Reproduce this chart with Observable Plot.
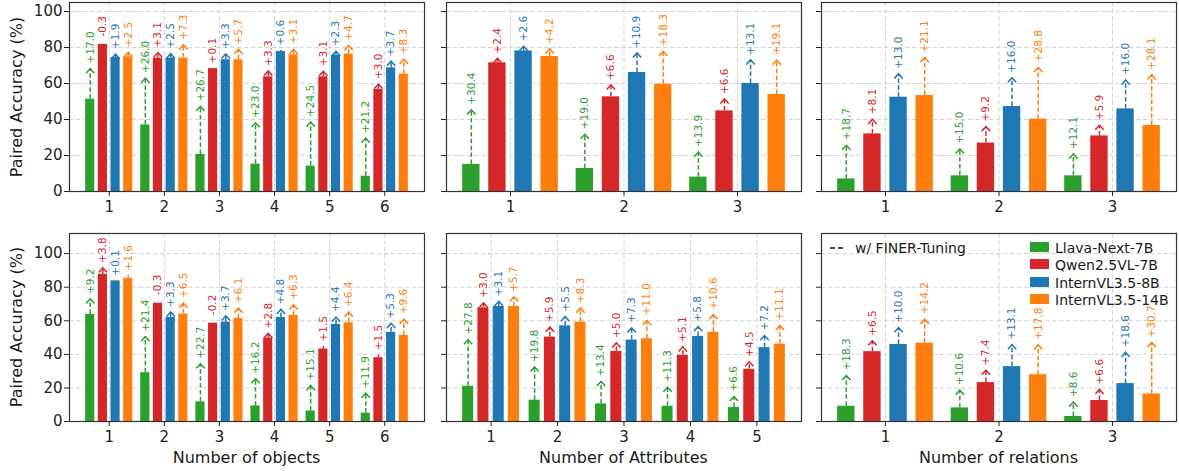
<!DOCTYPE html>
<html><head><meta charset="utf-8">
<script src="https://cdn.jsdelivr.net/npm/d3@7"></script>
<script src="https://cdn.jsdelivr.net/npm/@observablehq/plot@0.6"></script>
<style>
body{margin:0;background:#fff;font-family:"DejaVu Sans",sans-serif;}
#fig{position:relative;width:1179px;height:471px;overflow:hidden;background:#fff;}
.panel{position:absolute;}
.lbl{position:absolute;font-size:16px;color:#1a1a1a;white-space:nowrap;line-height:1;}
.leg{position:absolute;font-size:14px;color:#1a1a1a;white-space:nowrap;line-height:1;}
</style></head><body><div id="fig"></div>
<script>
const models = ["Llava-Next-7B", "Qwen2.5VL-7B", "InternVL3.5-8B", "InternVL3.5-14B"];
const colors = ["#2ca02c", "#d62728", "#1f77b4", "#ff7f0e"];
const objectCats = ["1", "2", "3", "4", "5", "6"];
const attrTopCats = ["1", "2", "3"];
const attrBottomCats = ["1", "2", "3", "4", "5"];
const relCats = ["1", "2", "3"];
const yTicks = [0, 20, 40, 60, 80, 100];
const xTitles = ["Number of objects", "Number of Attributes", "Number of relations"];
const yTitle = "Paired Accuracy (%)";
const dashLegend = "w/ FINER-Tuning";

// rows: Llava, Qwen, InternVL-8B, InternVL-14B
const objTopBase = [
  [51.3, 37.0, 20.6, 15.2, 14.1, 8.5],
  [81.7, 74.1, 68.3, 63.7, 63.7, 56.7],
  [74.4, 74.1, 73.2, 77.8, 75.6, 68.7],
  [74.8, 74.1, 73.2, 75.9, 76.3, 65.2]
];
const objTopGain = [
  [17.0, 26.0, 26.7, 23.0, 24.5, 21.2],
  [-0.3, 3.1, 0.1, 3.3, 3.1, 3.0],
  [1.9, 2.5, 3.3, 0.6, 2.3, 3.7],
  [2.5, 7.3, 5.7, 3.1, 4.7, 8.3]
];
const attrTopBase = [
  [15.0, 12.8, 8.0],
  [71.5, 52.6, 44.8],
  [78.1, 66.1, 60.0],
  [75.0, 59.6, 53.9]
];
const attrTopGain = [
  [30.4, 19.0, 13.9],
  [2.4, 6.6, 6.6],
  [2.6, 10.9, 13.1],
  [4.2, 18.3, 19.1]
];
const relTopBase = [
  [7.0, 8.7, 8.7],
  [32.0, 26.9, 30.9],
  [52.4, 47.2, 45.9],
  [53.3, 40.2, 36.7]
];
const relTopGain = [
  [18.7, 15.0, 12.1],
  [8.1, 9.2, 5.9],
  [13.0, 16.0, 16.0],
  [21.1, 28.8, 28.1]
];
const objBottomBase = [
  [63.8, 29.1, 11.7, 9.3, 6.3, 5.0],
  [87.7, 70.5, 58.6, 49.7, 43.2, 38.0],
  [83.8, 62.0, 59.2, 62.0, 57.8, 53.1],
  [85.3, 64.0, 61.4, 63.2, 58.8, 51.3]
];
const objBottomGain = [
  [9.2, 21.4, 22.7, 16.2, 15.1, 11.9],
  [3.8, -0.3, -0.2, 2.8, 1.5, 1.5],
  [0.1, 3.3, 3.7, 4.8, 4.4, 5.3],
  [1.6, 6.5, 6.1, 6.3, 6.4, 9.6]
];
const attrBottomBase = [
  [21.0, 12.7, 10.5, 9.1, 8.3],
  [67.7, 50.3, 41.8, 39.4, 31.1],
  [68.5, 57.0, 48.5, 50.7, 44.0],
  [68.5, 59.2, 49.3, 53.1, 46.1]
];
const attrBottomGain = [
  [27.8, 19.8, 13.4, 11.3, 6.6],
  [3.0, 5.9, 5.0, 5.1, 4.5],
  [3.1, 5.5, 7.3, 5.8, 7.2],
  [5.7, 8.3, 11.0, 10.6, 11.1]
];
const relBottomBase = [
  [9.1, 8.1, 3.0],
  [41.6, 23.2, 12.5],
  [45.9, 32.7, 22.6],
  [46.7, 27.9, 16.4]
];
const relBottomGain = [
  [18.3, 10.6, 8.6],
  [6.5, 7.4, 6.6],
  [10.0, 13.1, 18.6],
  [14.2, 17.8, 30.7]
];

const cols = [{left: 69, w: 355}, {left: 446, w: 355}, {left: 821, w: 355}];
const rowsGeo = [{top: 2, h: 189, yMax: 105}, {top: 233, h: 188, yMax: 112}];

const chevron = {
  draw(ctx) {
    ctx.moveTo(-4.2, 4.6);
    ctx.lineTo(0, 0);
    ctx.lineTo(4.2, 4.6);
  }
};

const fig = document.getElementById("fig");
const fmt = v => (v >= 0 ? "+" : "") + v.toFixed(1);

function panel(cats, base, gain, col, row, showYLabels) {
  const n = cats.length;
  const slot = 0.23, bw = n === 3 ? 0.153 : 0.166;
  const half = 1.5 * slot + bw / 2;
  const pad = 0.05 * (n - 1 + 2 * half);
  const ml = showYLabels ? 64 : 8, mr = 4, mt = 4, mb = 30;
  const headMin = 3 / (row.h / row.yMax);
  const grid = {stroke: "#cfcfcf", strokeOpacity: 1, strokeDasharray: "4.5,2.5", strokeWidth: 0.9};
  const bars = [], shafts = [], heads = [], labels = [];
  models.forEach((m, j) => {
    const data = cats.map((c, i) => ({i, v: base[j][i], d: gain[j][i]}));
    const xc = d => d.i + (j - 1.5) * slot;
    const tip = d => d.v + d.d;
    bars.push(Plot.rectY(data, {x1: d => xc(d) - bw / 2, x2: d => xc(d) + bw / 2, y1: 0, y2: "v", fill: colors[j]}));
    const pos = data.filter(d => d.d > 0);
    shafts.push(Plot.ruleX(pos, {x: xc, y1: "v", y2: tip, stroke: colors[j], strokeWidth: 1.5, strokeDasharray: "4.5,2.4"}));
    heads.push(Plot.dot(pos.filter(d => d.d >= headMin), {x: xc, y: tip, symbol: chevron, r: 4, fill: "none", stroke: colors[j], strokeWidth: 1.5}));
    labels.push(Plot.text(pos, {x: xc, y: tip, text: d => fmt(d.d), rotate: -90, textAnchor: "start", lineAnchor: "middle", dy: -5, fill: colors[j], fontSize: 10.5}));
    labels.push(Plot.text(data.filter(d => d.d <= 0), {x: xc, y: "v", text: d => fmt(d.d), rotate: -90, textAnchor: "start", lineAnchor: "middle", dy: -8, fill: colors[j], fontSize: 10.5}));
  });
  const svg = Plot.plot({
    width: ml + col.w + mr, height: mt + row.h + mb,
    marginLeft: ml, marginRight: mr, marginTop: mt, marginBottom: mb,
    x: {domain: [-half - pad, n - 1 + half + pad], axis: null},
    y: {domain: [0, row.yMax], axis: null},
    style: {fontFamily: "DejaVu Sans, sans-serif", color: "#222", background: "transparent", overflow: "visible"},
    marks: [
      Plot.gridY(yTicks, grid),
      Plot.gridX(d3.range(n), grid),
      ...bars, ...shafts, ...heads, ...labels,
      Plot.frame({stroke: "#333", strokeWidth: 1.2}),
      Plot.axisX(d3.range(n), {tickFormat: i => cats[i], tickSize: 5, tickPadding: 5, fontSize: 15, label: null}),
      showYLabels
        ? Plot.axisY(yTicks, {tickSize: 5, tickPadding: 2, fontSize: 15, label: null})
        : Plot.axisY(yTicks, {tickSize: 5, tickFormat: () => "", label: null})
    ]
  });
  const div = document.createElement("div");
  div.className = "panel";
  div.style.left = (col.left - ml) + "px";
  div.style.top = (row.top - mt) + "px";
  div.style.width = (ml + col.w + mr) + "px";
  div.appendChild(svg);
  fig.appendChild(div);
}

panel(objectCats, objTopBase, objTopGain, cols[0], rowsGeo[0], true);
panel(attrTopCats, attrTopBase, attrTopGain, cols[1], rowsGeo[0], false);
panel(relCats, relTopBase, relTopGain, cols[2], rowsGeo[0], false);
panel(objectCats, objBottomBase, objBottomGain, cols[0], rowsGeo[1], true);
panel(attrBottomCats, attrBottomBase, attrBottomGain, cols[1], rowsGeo[1], false);
panel(relCats, relBottomBase, relBottomGain, cols[2], rowsGeo[1], false);

// axis titles
xTitles.forEach((t, k) => {
  const el = document.createElement("div");
  el.className = "lbl";
  el.textContent = t;
  el.style.left = (cols[k].left + cols[k].w / 2) + "px";
  el.style.top = "458px";
  el.style.transform = "translate(-50%, -50%)";
  fig.appendChild(el);
});
rowsGeo.forEach(r => {
  const el = document.createElement("div");
  el.className = "lbl";
  el.textContent = yTitle;
  el.style.left = "17px";
  el.style.top = (r.top + r.h / 2) + "px";
  el.style.transform = "translate(-50%, -50%) rotate(-90deg)";
  fig.appendChild(el);
});

// legend
const dash = document.createElementNS("http://www.w3.org/2000/svg", "svg");
dash.setAttribute("width", "16"); dash.setAttribute("height", "4");
dash.style.position = "absolute"; dash.style.left = "829px"; dash.style.top = "246px";
dash.innerHTML = '<line x1="1" y1="2" x2="15" y2="2" stroke="#111" stroke-width="1.6" stroke-dasharray="5,3"/>';
fig.appendChild(dash);
const dl = document.createElement("div");
dl.className = "leg"; dl.textContent = dashLegend;
dl.style.left = "855px"; dl.style.top = "248px"; dl.style.transform = "translateY(-50%)";
fig.appendChild(dl);
models.forEach((m, j) => {
  const y = 247 + j * 17.3;
  const sw = document.createElement("div");
  sw.style.cssText = `position:absolute;left:1030px;top:${y - 5}px;width:19px;height:10px;background:${colors[j]};`;
  fig.appendChild(sw);
  const t = document.createElement("div");
  t.className = "leg"; t.textContent = m;
  t.style.left = "1055px"; t.style.top = (y + 1) + "px"; t.style.transform = "translateY(-50%)";
  fig.appendChild(t);
});
</script>
</body></html>
